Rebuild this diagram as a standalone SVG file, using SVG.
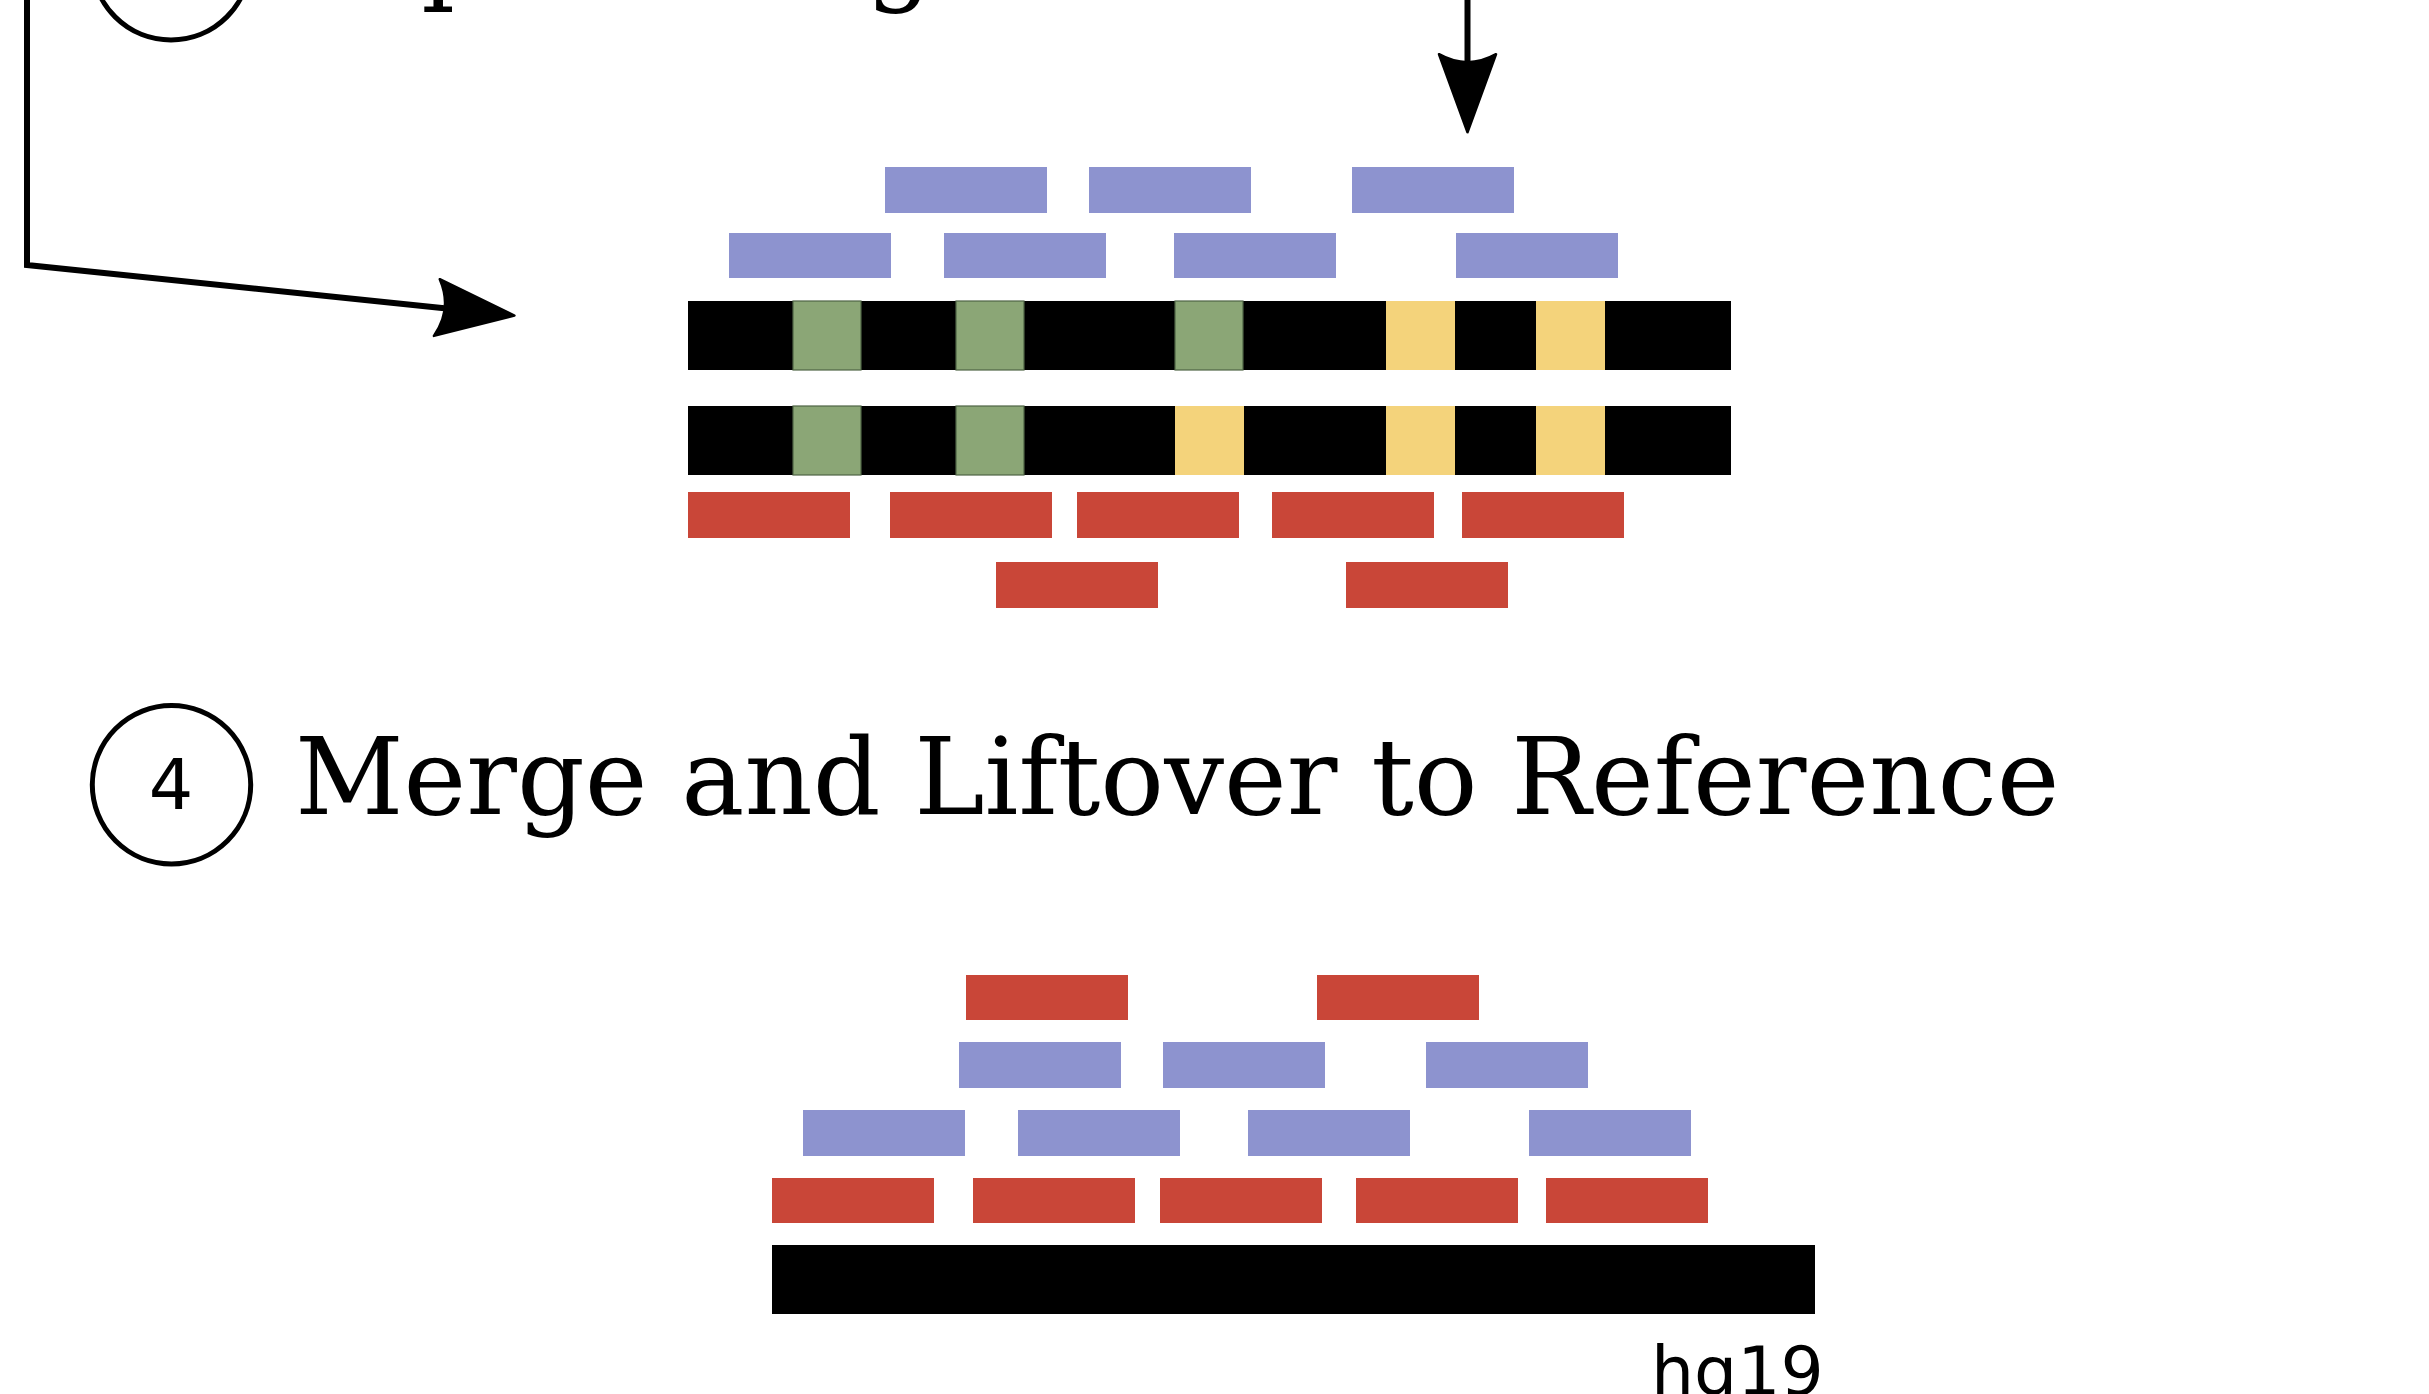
<svg xmlns="http://www.w3.org/2000/svg" width="2429" height="1394" viewBox="0 0 2429 1394">
  <style>
    .read-a { fill: #8d93cf; }
    .read-b { fill: #c94638; }
    .genome { fill: #000000; }
    .snp-hom { fill: #8ba676; stroke: #4f6445; stroke-width: 1.2; }
    .snp-het { fill: #f4d37b; }
    .ring { fill: none; stroke: #000000; stroke-width: 5; }
    .step-title { font-family: "DejaVu Serif", "Liberation Serif", serif; font-size: 106px; fill: #000000; }
    .step-num { font-family: "DejaVu Sans", "Liberation Sans", sans-serif; font-size: 70px; fill: #000000; text-anchor: middle; }
    .label { font-family: "DejaVu Sans", "Liberation Sans", sans-serif; font-size: 68px; fill: #000000; }
    .wire { fill: none; stroke: #000000; stroke-width: 6; stroke-linejoin: miter; marker-end: url(#head); }
  </style>
  <defs>
    <marker id="head" markerUnits="userSpaceOnUse" orient="auto" refX="0" refY="0" markerWidth="100" markerHeight="80" overflow="visible">
      <path d="M -7.5 -28.5 L 70.5 0 L -7.5 28.5 Q 8.5 0 -7.5 -28.5 Z" fill="#000000" stroke="#000000" stroke-width="2.5" stroke-linejoin="round"/>
    </marker>
  </defs>

  <rect width="2429" height="1394" fill="#ffffff"/>

  <!-- step 3 header (mostly above the page edge) -->
  <g id="step3-header">
    <circle class="ring" cx="171" cy="-39" r="79"/>
    <text class="step-title" x="295" y="-10">TopHat Alignment</text>
  </g>

  <!-- connectors -->
  <g id="connectors">
    <path class="wire" d="M 27 -10 V 265 L 444.3 308.3"/>
    <path class="wire" d="M 1467.5 -10 V 61.7"/>
  </g>

  <!-- step 3: reads aligned to the two haplotype genomes -->
  <g id="reads-a-upper">
    <rect class="read-a" x="885" y="167" width="162" height="46"/>
    <rect class="read-a" x="1089" y="167" width="162" height="46"/>
    <rect class="read-a" x="1352" y="167" width="162" height="46"/>
    <rect class="read-a" x="729" y="233" width="162" height="45"/>
    <rect class="read-a" x="944" y="233" width="162" height="45"/>
    <rect class="read-a" x="1174" y="233" width="162" height="45"/>
    <rect class="read-a" x="1456" y="233" width="162" height="45"/>
  </g>

  <g id="haplotype-1">
    <rect class="genome" x="688" y="301" width="1043" height="69"/>
    <rect class="snp-hom" x="793" y="301" width="68" height="69"/>
    <rect class="snp-hom" x="956" y="301" width="68" height="69"/>
    <rect class="snp-hom" x="1175" y="301" width="68" height="69"/>
    <rect class="snp-het" x="1386" y="301" width="69" height="69"/>
    <rect class="snp-het" x="1536" y="301" width="69" height="69"/>
  </g>

  <g id="haplotype-2">
    <rect class="genome" x="688" y="406" width="1043" height="69"/>
    <rect class="snp-hom" x="793" y="406" width="68" height="69"/>
    <rect class="snp-hom" x="956" y="406" width="68" height="69"/>
    <rect class="snp-het" x="1175" y="406" width="69" height="69"/>
    <rect class="snp-het" x="1386" y="406" width="69" height="69"/>
    <rect class="snp-het" x="1536" y="406" width="69" height="69"/>
  </g>

  <g id="reads-b-lower">
    <rect class="read-b" x="688" y="492" width="162" height="46"/>
    <rect class="read-b" x="890" y="492" width="162" height="46"/>
    <rect class="read-b" x="1077" y="492" width="162" height="46"/>
    <rect class="read-b" x="1272" y="492" width="162" height="46"/>
    <rect class="read-b" x="1462" y="492" width="162" height="46"/>
    <rect class="read-b" x="996" y="562" width="162" height="46"/>
    <rect class="read-b" x="1346" y="562" width="162" height="46"/>
  </g>

  <!-- step 4 header -->
  <g id="step4-header">
    <circle class="ring" cx="171.5" cy="784.7" r="79.2"/>
    <text class="step-num" x="171" y="809">4</text>
    <text class="step-title" x="295" y="814">Merge and Liftover to Reference</text>
  </g>

  <!-- step 4: merged reads on the reference -->
  <g id="merged-reads">
    <rect class="read-b" x="966" y="975" width="162" height="45"/>
    <rect class="read-b" x="1317" y="975" width="162" height="45"/>
    <rect class="read-a" x="959" y="1042" width="162" height="46"/>
    <rect class="read-a" x="1163" y="1042" width="162" height="46"/>
    <rect class="read-a" x="1426" y="1042" width="162" height="46"/>
    <rect class="read-a" x="803" y="1110" width="162" height="46"/>
    <rect class="read-a" x="1018" y="1110" width="162" height="46"/>
    <rect class="read-a" x="1248" y="1110" width="162" height="46"/>
    <rect class="read-a" x="1529" y="1110" width="162" height="46"/>
    <rect class="read-b" x="772" y="1178" width="162" height="45"/>
    <rect class="read-b" x="973" y="1178" width="162" height="45"/>
    <rect class="read-b" x="1160" y="1178" width="162" height="45"/>
    <rect class="read-b" x="1356" y="1178" width="162" height="45"/>
    <rect class="read-b" x="1546" y="1178" width="162" height="45"/>
  </g>

  <g id="reference">
    <rect class="genome" x="772" y="1245" width="1043" height="69"/>
    <text class="label" x="1651" y="1395">hg19</text>
  </g>
</svg>
